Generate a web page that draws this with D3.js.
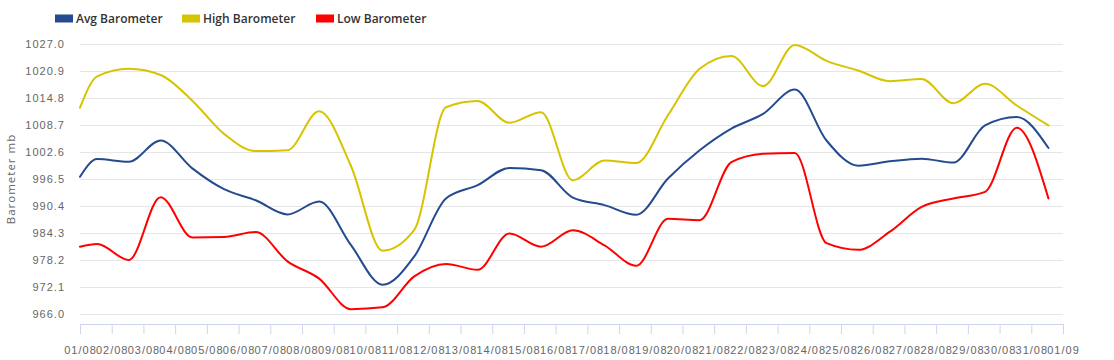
<!DOCTYPE html>
<html>
<head>
<meta charset="utf-8">
<script src="https://cdn.jsdelivr.net/npm/d3@7"></script>
<style>
  html, body { margin: 0; padding: 0; background: #fff; }
  svg { display: block; font-family: "Open Sans", "Noto Sans", sans-serif; }
</style>
</head>
<body>
<svg id="chart" width="1114" height="360"></svg>
<script>
// ---- data ----
const seriesNames = ["Avg Barometer", "High Barometer", "Low Barometer"];
const seriesColors = ["#244a8f", "#d6c400", "#ff0000"];
// timestamps: start of 01/08, then each day at 13:00
const times = [
  "2023-08-01T00:00Z",
  "2023-08-01T13:00Z","2023-08-02T13:00Z","2023-08-03T13:00Z","2023-08-04T13:00Z","2023-08-05T13:00Z",
  "2023-08-06T13:00Z","2023-08-07T13:00Z","2023-08-08T13:00Z","2023-08-09T13:00Z","2023-08-10T13:00Z",
  "2023-08-11T13:00Z","2023-08-12T13:00Z","2023-08-13T13:00Z","2023-08-14T13:00Z","2023-08-15T13:00Z",
  "2023-08-16T13:00Z","2023-08-17T13:00Z","2023-08-18T13:00Z","2023-08-19T13:00Z","2023-08-20T13:00Z",
  "2023-08-21T13:00Z","2023-08-22T13:00Z","2023-08-23T13:00Z","2023-08-24T13:00Z","2023-08-25T13:00Z",
  "2023-08-26T13:00Z","2023-08-27T13:00Z","2023-08-28T13:00Z","2023-08-29T13:00Z","2023-08-30T13:00Z",
  "2023-08-31T13:00Z"
];
const avgBarometer = [997.0,
  1001.0, 1000.4, 1005.2, 998.9, 994.2, 991.7, 988.5, 991.4, 981.6, 972.6,
  979.0, 992.1, 995.1, 999.0, 998.5, 992.3, 990.6, 988.4, 996.6, 1003.0,
  1007.9, 1011.2, 1016.7, 1005.2, 999.5, 1000.5, 1001.1, 1000.2, 1008.6, 1010.5,
  1003.5];
const highBarometer = [1012.6,
  1019.7, 1021.4, 1020.0, 1014.2, 1006.7, 1002.8, 1003.0, 1011.8, 999.5, 980.3,
  985.0, 1012.7, 1014.1, 1009.2, 1011.6, 996.2, 1000.7, 1000.1, 1010.9, 1021.4,
  1024.3, 1017.5, 1026.8, 1023.2, 1021.0, 1018.6, 1019.1, 1013.6, 1018.0, 1013.1,
  1008.6];
const lowBarometer = [981.2,
  981.8, 978.2, 992.4, 983.3, 983.4, 984.5, 977.9, 974.0, 967.1, 967.5,
  974.5, 977.3, 976.0, 984.2, 981.2, 984.9, 981.5, 976.9, 987.5, 987.2,
  1000.3, 1002.2, 1002.4, 982.0, 980.5, 984.6, 990.2, 992.1, 993.6, 1008.1,
  992.1];
const yTicks = [966.0, 972.1, 978.2, 984.3, 990.4, 996.5, 1002.6, 1008.7, 1014.8, 1020.9, 1027.0];
const xTickDates = [
  "2023-08-01","2023-08-02","2023-08-03","2023-08-04","2023-08-05","2023-08-06","2023-08-07","2023-08-08",
  "2023-08-09","2023-08-10","2023-08-11","2023-08-12","2023-08-13","2023-08-14","2023-08-15","2023-08-16",
  "2023-08-17","2023-08-18","2023-08-19","2023-08-20","2023-08-21","2023-08-22","2023-08-23","2023-08-24",
  "2023-08-25","2023-08-26","2023-08-27","2023-08-28","2023-08-29","2023-08-30","2023-08-31","2023-09-01"
];
const xTickLabels = [
  "01/08","02/08","03/08","04/08","05/08","06/08","07/08","08/08","09/08","10/08","11/08","12/08",
  "13/08","14/08","15/08","16/08","17/08","18/08","19/08","20/08","21/08","22/08","23/08","24/08",
  "25/08","26/08","27/08","28/08","29/08","30/08","31/08","01/09"
];
const yTitle = "Barometer mb";

// ---- layout ----
const plot = { left: 80, right: 1063, top: 44, bottom: 314, axisY: 324 };
const svg = d3.select("#chart");

const x = d3.scaleUtc()
  .domain([new Date(xTickDates[0] + "T00:00Z"), new Date(xTickDates[xTickDates.length - 1] + "T00:00Z")])
  .range([plot.left, plot.right]);
const y = d3.scaleLinear().domain([966.0, 1027.0]).range([plot.bottom, plot.top]);

// gridlines
const yAxis = d3.axisLeft(y).tickValues(yTicks).tickFormat(d3.format(".1f"))
  .tickSize(-(plot.right - plot.left)).tickPadding(15);
const gy = svg.append("g").attr("transform", `translate(${plot.left},0)`).call(yAxis);
gy.select(".domain").remove();
gy.selectAll(".tick line").attr("stroke", "#e6e6e6").attr("stroke-width", 1);
gy.selectAll(".tick text").attr("fill", "#666").attr("font-size", "11px")
  .attr("letter-spacing", "1px");

// x axis
const tickDates = xTickDates.map(d => new Date(d + "T00:00Z"));
const xAxis = d3.axisBottom(x).tickValues(tickDates)
  .tickFormat((d, i) => xTickLabels[i]).tickSize(10).tickSizeOuter(0).tickPadding(12);
const gx = svg.append("g").attr("transform", `translate(0,${plot.axisY})`).call(xAxis);
gx.select(".domain").attr("stroke", "#ccd6eb");
gx.selectAll(".tick line").attr("stroke", "#ccd6eb");
gx.selectAll(".tick text").attr("fill", "#666").attr("font-size", "11px")
  .attr("letter-spacing", "1px");

// y title
svg.append("text")
  .attr("transform", `translate(15,${(plot.top + plot.bottom) / 2}) rotate(-90)`)
  .attr("text-anchor", "middle")
  .attr("fill", "#666").attr("font-size", "11.5px").attr("letter-spacing", "1px")
  .text(yTitle);

// lines
const seriesData = [avgBarometer, highBarometer, lowBarometer];
const parsedTimes = times.map(t => new Date(t));
const line = d3.line()
  .x((d, i) => x(parsedTimes[i]))
  .y(d => y(d))
  .curve(d3.curveMonotoneX);
seriesData.forEach((vals, si) => {
  svg.append("path")
    .datum(vals)
    .attr("fill", "none")
    .attr("stroke", seriesColors[si])
    .attr("stroke-width", 2)
    .attr("stroke-linejoin", "round")
    .attr("stroke-linecap", "round")
    .attr("d", line);
});

// legend
const legendX = [55, 182, 316];
const lg = svg.append("g");
seriesNames.forEach((name, i) => {
  const g = lg.append("g").attr("transform", `translate(${legendX[i]},0)`);
  g.append("rect").attr("x", 0).attr("y", 14.5).attr("width", 18).attr("height", 8)
    .attr("fill", seriesColors[i]);
  g.append("text").attr("x", 21).attr("y", 22.5)
    .attr("fill", "#333").attr("font-size", "12px").attr("font-weight", 600)
    .text(name);
});
</script>
</body>
</html>
